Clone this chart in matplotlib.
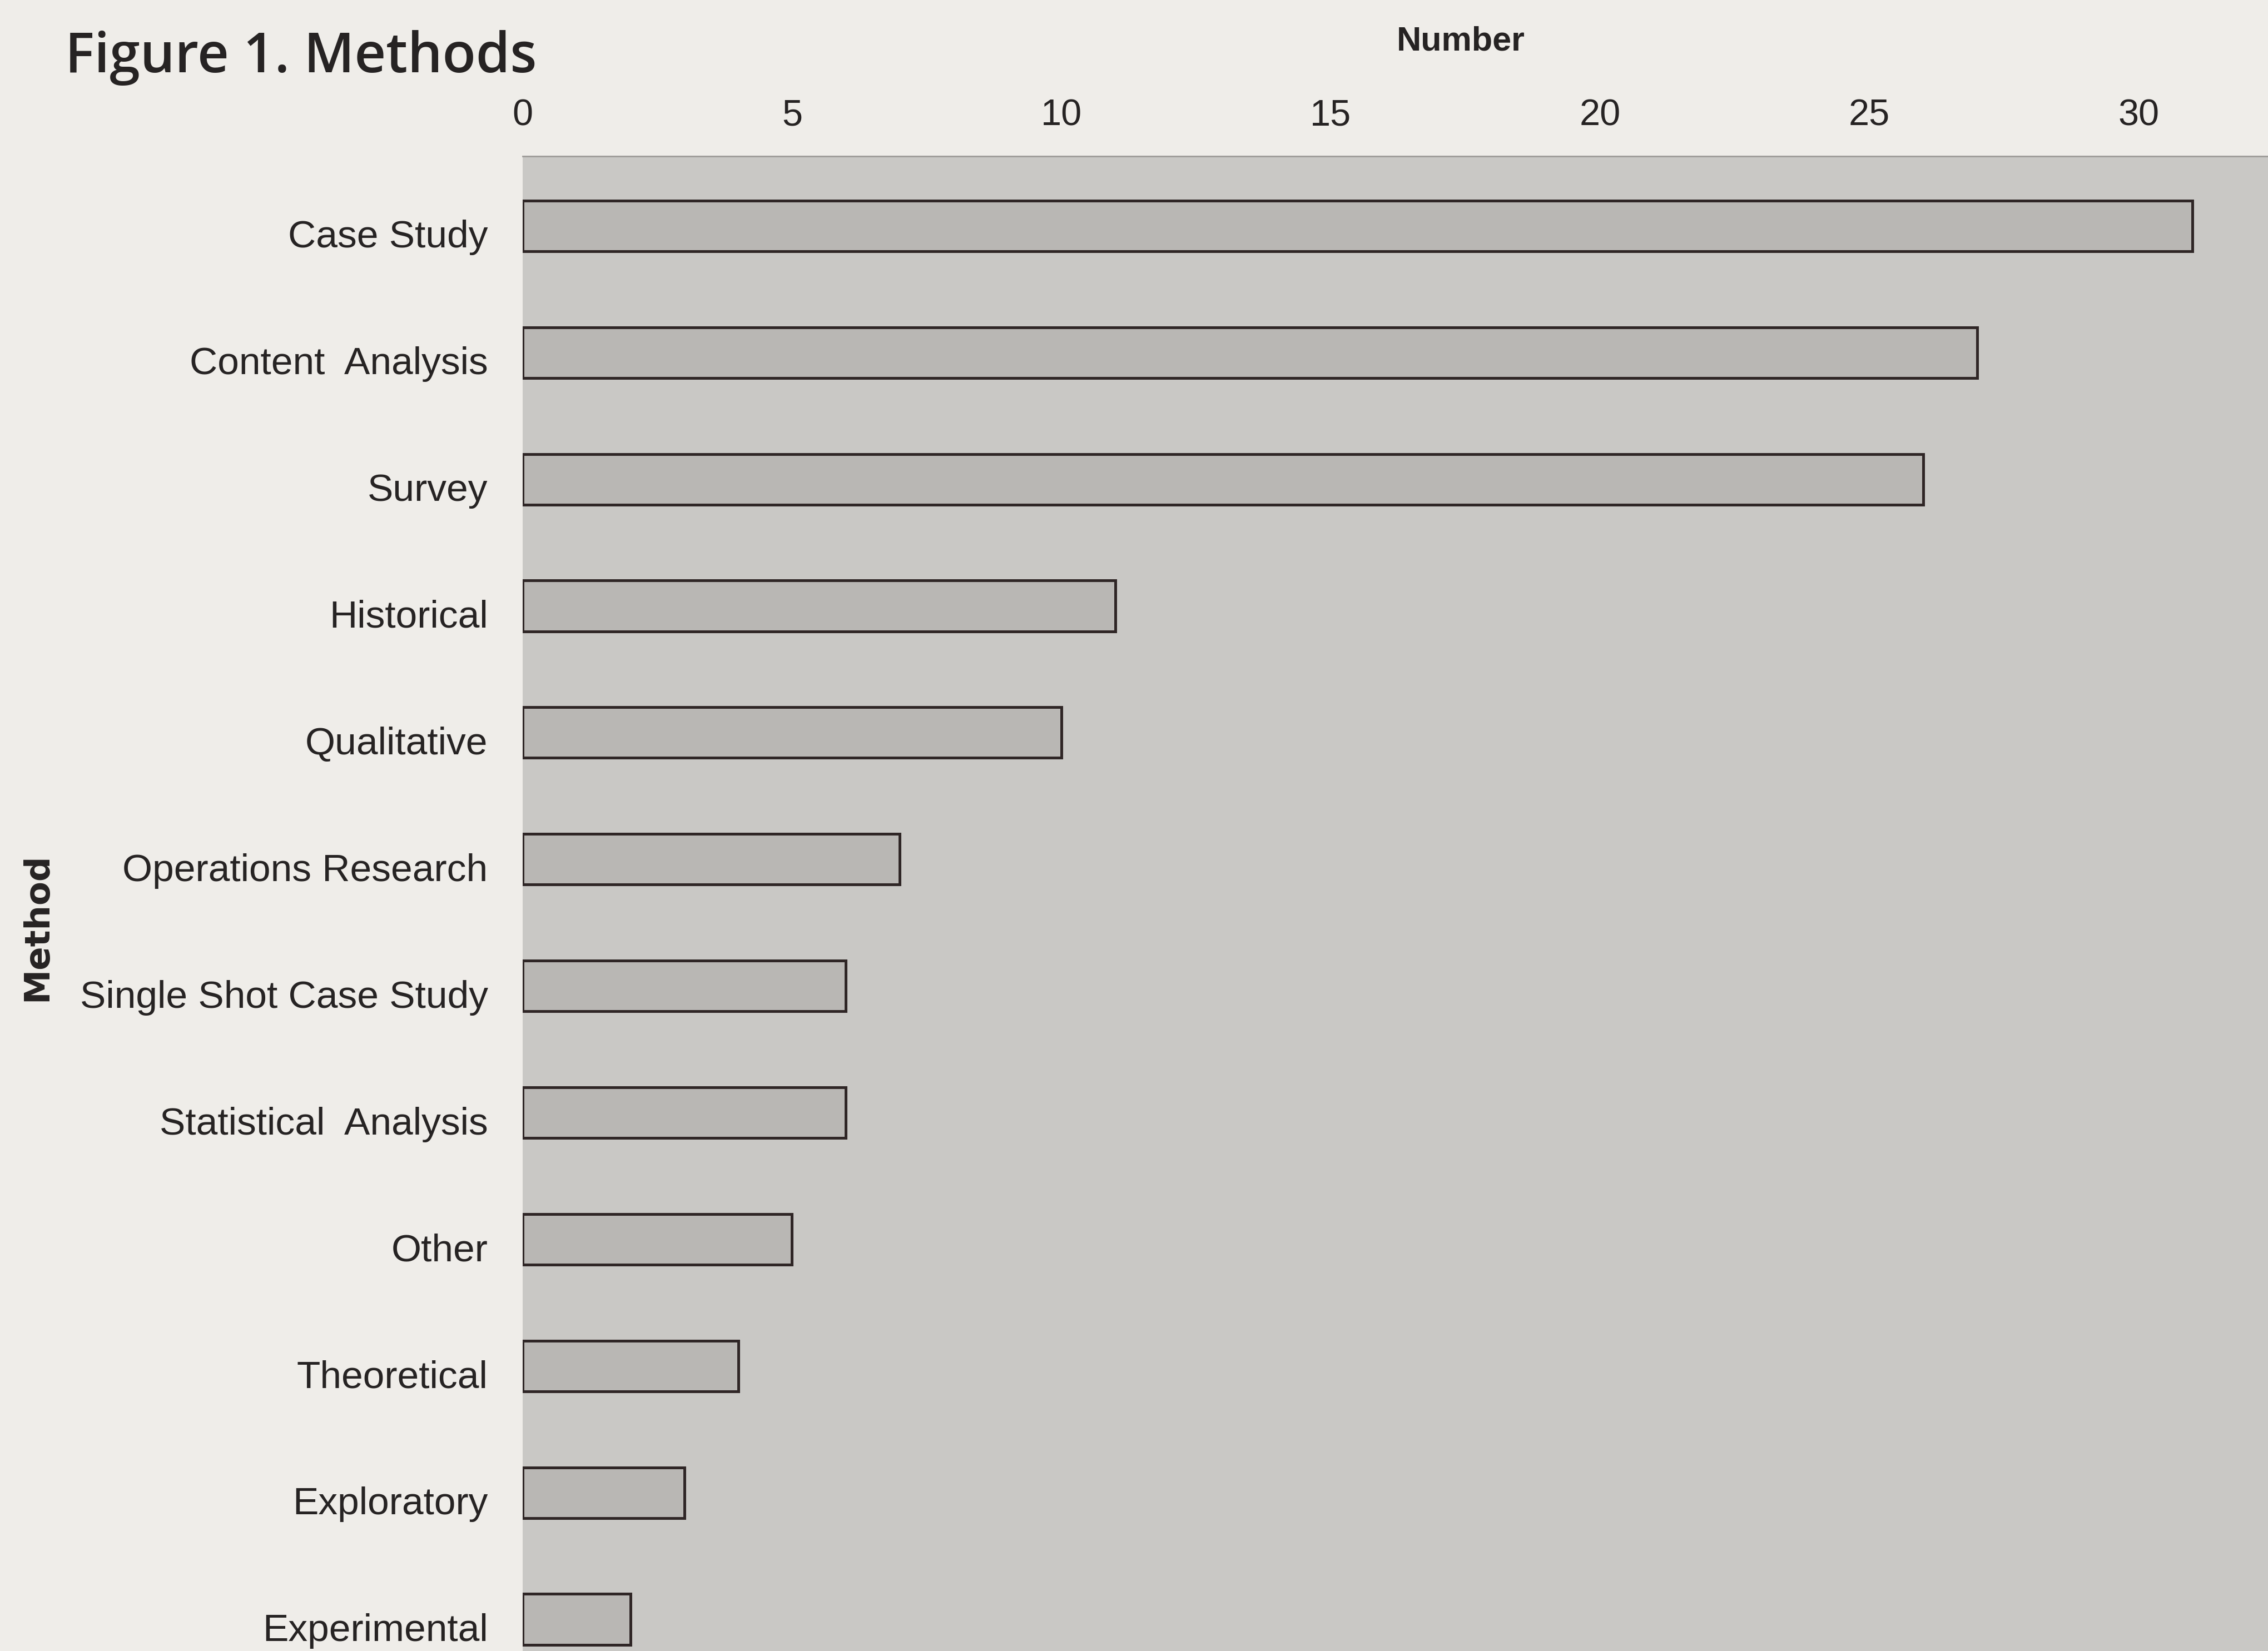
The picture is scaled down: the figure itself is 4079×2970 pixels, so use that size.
import numpy as np
import matplotlib.pyplot as plt
import matplotlib.transforms as mtransforms

# data
methods = ['Case Study', 'Content  Analysis', 'Survey', 'Historical', 'Qualitative',
           'Operations Research', 'Single Shot Case Study', 'Statistical  Analysis',
           'Other', 'Theoretical', 'Exploratory', 'Experimental']
counts = [31, 27, 26, 11, 10, 7, 6, 6, 5, 4, 3, 2]
xticks = [0, 5, 10, 15, 20, 25, 30]

page = '#efede9'
panel = '#c9c8c5'
barcol = '#b9b7b4'
edge = '#2f2626'
ink = '#262323'

plt.rcParams['font.family'] = ['Liberation Sans', 'DejaVu Sans']

W, H = 4079, 2970
fig = plt.figure(figsize=(W / 100, H / 100), dpi=100, facecolor=page)

ax_left = 940 / W
ax_top = 1 - 281 / H
ax = fig.add_axes([ax_left, 0, 1 - ax_left, ax_top], facecolor=panel)

y = np.arange(len(methods))
ax.barh(y, counts, height=0.4, color=barcol, edgecolor=edge, linewidth=3.6)

ax.set_xlim(0, 32.4)
ax.set_ylim(11.25, -0.55)

ax.xaxis.tick_top()
ax.set_xticks(xticks)
ax.set_xticklabels([str(t) for t in xticks])
ax.set_yticks(y)
ax.set_yticklabels(methods)
ax.tick_params(axis='x', length=0, pad=30, labelsize=48, colors=ink)
ax.tick_params(axis='y', length=0, pad=45, labelsize=50, colors=ink)

# labels sit a little below the bar centres in the original
shift = mtransforms.ScaledTranslation(0, -14 / 100, fig.dpi_scale_trans)
for lab in ax.get_yticklabels():
    lab.set_transform(lab.get_transform() + shift)

for s in ['right', 'bottom', 'left']:
    ax.spines[s].set_visible(False)
ax.spines['top'].set_color('#9d9b98')
ax.spines['top'].set_linewidth(2)

fig.text(117 / W, 1 - 104 / H, 'Figure 1. Methods', family=['Open Sans', 'DejaVu Sans'],
         fontweight='semibold', fontsize=71, color=ink, ha='left', va='center')
fig.text(2627 / W, 1 - 75 / H, 'Number', fontweight='bold', fontsize=44,
         color=ink, ha='center', va='center')
fig.text(67 / W, 1 - 1668 / H, 'Method', family=['DejaVu Sans'], fontweight='heavy',
         fontsize=45, rotation=90, color=ink, ha='center', va='center')

fig.savefig('out.png', dpi=100, facecolor=page)
